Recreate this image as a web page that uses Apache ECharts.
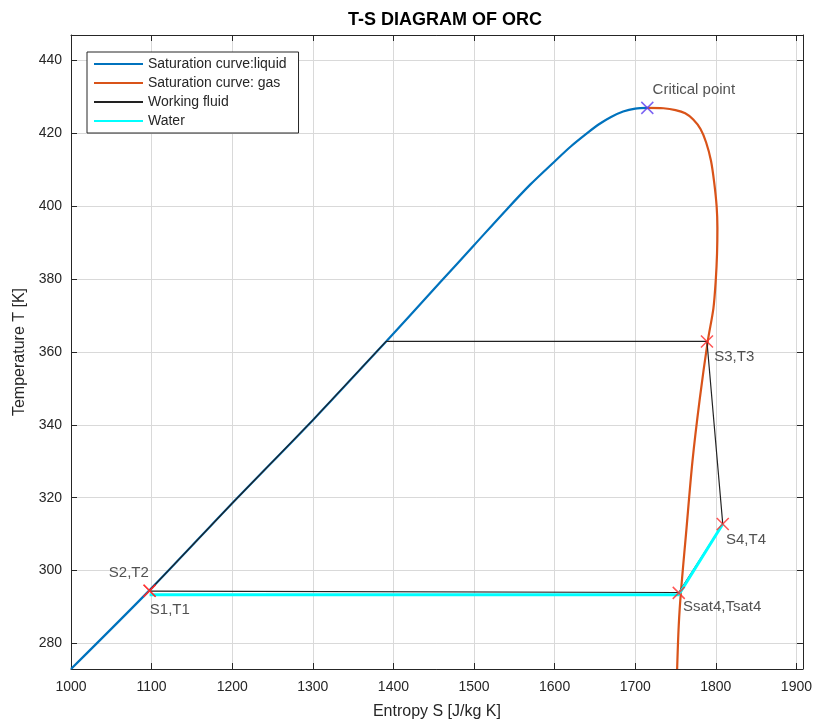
<!DOCTYPE html>
<html>
<head>
<meta charset="utf-8">
<title>T-S diagram of ORC</title>
<script src="https://cdn.jsdelivr.net/npm/echarts@6/dist/echarts.min.js"></script>
<style>
html, body { margin: 0; padding: 0; background: #fff; }
#main { width: 815px; height: 725px; }
</style>
</head>
<body>
<div id="main"></div>
<script>
// saturation dome
var liquidS = [1000, 1100, 1200, 1300, 1391, 1420, 1460, 1500, 1540, 1570, 1600, 1620, 1640, 1655, 1670, 1685, 1700, 1715];
var liquidT = [273, 295.2, 318.5, 341.3, 362.9, 369.9, 379.6, 389.3, 399, 406, 412.3, 416.4, 420, 422.5, 424.5, 426, 426.8, 427];

var gasS = [1715, 1735, 1750, 1762, 1772, 1781, 1788, 1794, 1798, 1801, 1802, 1801.5, 1800, 1797, 1790, 1780, 1771, 1763, 1757, 1754, 1752];
var gasT = [427, 426.9, 426.4, 425.5, 423.8, 421.2, 417.5, 412.5, 406.5, 400, 394, 387, 380, 372, 363, 347, 330, 310, 295, 285, 273];

// cycle
var workS = [1097.5, 1200, 1300, 1391, 1789, 1808.6, 1754, 1097.5];
var workT = [294.6, 318.5, 341.3, 362.9, 362.9, 312.8, 294, 294.4];

var waterS = [1097.5, 1754, 1808.6];
var waterT = [293.4, 293.4, 312.8];

// state points
var pointNames = ['S2,T2', 'S1,T1', 'S3,T3', 'S4,T4', 'Ssat4,Tsat4'];
var pointS = [1097.5, 1097.5, 1789, 1808.6, 1754];
var pointT = [294.5, 294.5, 362.9, 312.8, 293.9];

var critName = 'Critical point';
var critS = [1715];
var critT = [427];

var xTicks = [1000, 1100, 1200, 1300, 1400, 1500, 1600, 1700, 1800, 1900];
var yTicks = [280, 300, 320, 340, 360, 380, 400, 420, 440];

function pairs(xs, ys) {
	var out = [];
	for (var i = 0; i < xs.length; i++) {
		out.push([xs[i], ys[i]]);
	}
	return out;
}

var font = 'Liberation Sans, Arial, Helvetica, sans-serif';
var ink = '#262626';
var cross = 'path://M0,0L10,10M10,0L0,10';

// where each label sits next to its marker
var labelPlace = {
	'S2,T2' : { position : [6, -11], align : 'right' },
	'S1,T1' : { position : [7, 26], align : 'left' },
	'S3,T3' : { position : [14, 22], align : 'left' },
	'S4,T4' : { position : [10, 23], align : 'left' },
	'Ssat4,Tsat4' : { position : [11, 21], align : 'left' }
};

var pointData = pointNames.map(function(n, i) {
	return {
		name : n,
		value : [pointS[i], pointT[i]],
		label : {
			show : true,
			formatter : n,
			position : labelPlace[n].position,
			align : labelPlace[n].align,
			verticalAlign : 'middle'
		}
	};
});

var myChart = echarts.init(document.getElementById('main'));

function plain(v) {
	return String(v);
}

var option = {
	animation : false,
	backgroundColor : '#FFFFFF',
	title : {
		text : 'T-S DIAGRAM OF ORC',
		left : 343,
		top : 6,
		textStyle : { fontFamily : font, fontSize : 18, fontWeight : 'bold', color : '#000' }
	},
	legend : {
		orient : 'vertical',
		left : 87,
		top : 52,
		itemWidth : 49,
		itemHeight : 12,
		itemGap : 5,
		padding : [5, 12, 5, 6],
		borderColor : ink,
		borderWidth : 1,
		backgroundColor : '#fff',
		itemStyle : { opacity : 0 },
		textStyle : { fontFamily : font, fontSize : 14, color : ink },
		data : ['Saturation curve:liquid', 'Saturation curve: gas', 'Working fluid', 'Water']
	},
	grid : { left : 71, right : 8, top : 35, bottom : 52 },
	xAxis : [{
		type : 'value',
		min : 1000,
		max : 1908,
		name : 'Entropy S [J/kg K]',
		nameLocation : 'middle',
		nameGap : 35,
		nameTextStyle : { fontFamily : font, fontSize : 16, color : ink },
		axisLine : { show : true, onZero : false, lineStyle : { color : ink } },
		axisTick : { show : true, inside : true, length : 6, customValues : xTicks, lineStyle : { color : ink } },
		axisLabel : { customValues : xTicks, formatter : plain, fontFamily : font, fontSize : 14, color : ink, margin : 11 },
		splitLine : { show : true, lineStyle : { color : '#d9d9d9', width : 1 } }
	}, {
		type : 'value',
		position : 'top',
		min : 1000,
		max : 1908,
		axisLine : { show : true, onZero : false, lineStyle : { color : ink } },
		axisTick : { show : true, inside : true, length : 6, customValues : xTicks, lineStyle : { color : ink } },
		axisLabel : { show : false },
		splitLine : { show : false }
	}],
	yAxis : [{
		type : 'value',
		min : 273,
		max : 447,
		name : 'Temperature T [K]',
		nameLocation : 'middle',
		nameGap : 41,
		nameTextStyle : { fontFamily : font, fontSize : 16, color : ink },
		axisLine : { show : true, onZero : false, lineStyle : { color : ink } },
		axisTick : { show : true, inside : true, length : 6, customValues : yTicks, lineStyle : { color : ink } },
		axisLabel : { customValues : yTicks, formatter : plain, fontFamily : font, fontSize : 14, color : ink, margin : 9 },
		splitLine : { show : true, lineStyle : { color : '#d9d9d9', width : 1 } }
	}, {
		type : 'value',
		position : 'right',
		min : 273,
		max : 447,
		axisLine : { show : true, onZero : false, lineStyle : { color : ink } },
		axisTick : { show : true, inside : true, length : 6, customValues : yTicks, lineStyle : { color : ink } },
		axisLabel : { show : false },
		splitLine : { show : false }
	}],
	series : [{
		name : 'Saturation curve:liquid',
		type : 'line',
		symbol : 'circle',
		showSymbol : false,
		smooth : 0.3,
		lineStyle : { color : '#0072BD', width : 2.2 },
		itemStyle : { color : '#0072BD' },
		data : pairs(liquidS, liquidT),
		z : 2
	}, {
		name : 'Saturation curve: gas',
		type : 'line',
		symbol : 'circle',
		showSymbol : false,
		smooth : 0.3,
		lineStyle : { color : '#D95319', width : 2.2 },
		itemStyle : { color : '#D95319' },
		data : pairs(gasS, gasT),
		z : 2
	}, {
		name : 'Working fluid',
		type : 'line',
		symbol : 'circle',
		showSymbol : false,
		lineStyle : { color : '#222222', width : 1.2 },
		itemStyle : { color : '#222222' },
		data : pairs(workS, workT),
		z : 3
	}, {
		name : 'Water',
		type : 'line',
		symbol : 'circle',
		showSymbol : false,
		lineStyle : { color : '#00FFFF', width : 3 },
		itemStyle : { color : '#00FFFF' },
		data : pairs(waterS, waterT),
		z : 4
	}, {
		name : 'points',
		type : 'scatter',
		symbol : cross,
		symbolSize : 12,
		itemStyle : { color : 'rgba(0,0,0,0)', borderColor : '#ff2a2a', borderWidth : 1.5 },
		label : { fontFamily : font, fontSize : 15, color : ink },
		data : pointData,
		z : 5
	}, {
		name : 'critical',
		type : 'scatter',
		symbol : cross,
		symbolSize : 12,
		itemStyle : { color : 'rgba(0,0,0,0)', borderColor : '#5a3cf0', borderWidth : 1.5 },
		label : {
			show : true,
			formatter : critName,
			position : [12, -11],
			align : 'left',
			verticalAlign : 'middle',
			fontFamily : font,
			fontSize : 15,
			color : ink
		},
		data : pairs(critS, critT),
		z : 5
	}]
};

myChart.setOption(option);
</script>
</body>
</html>
